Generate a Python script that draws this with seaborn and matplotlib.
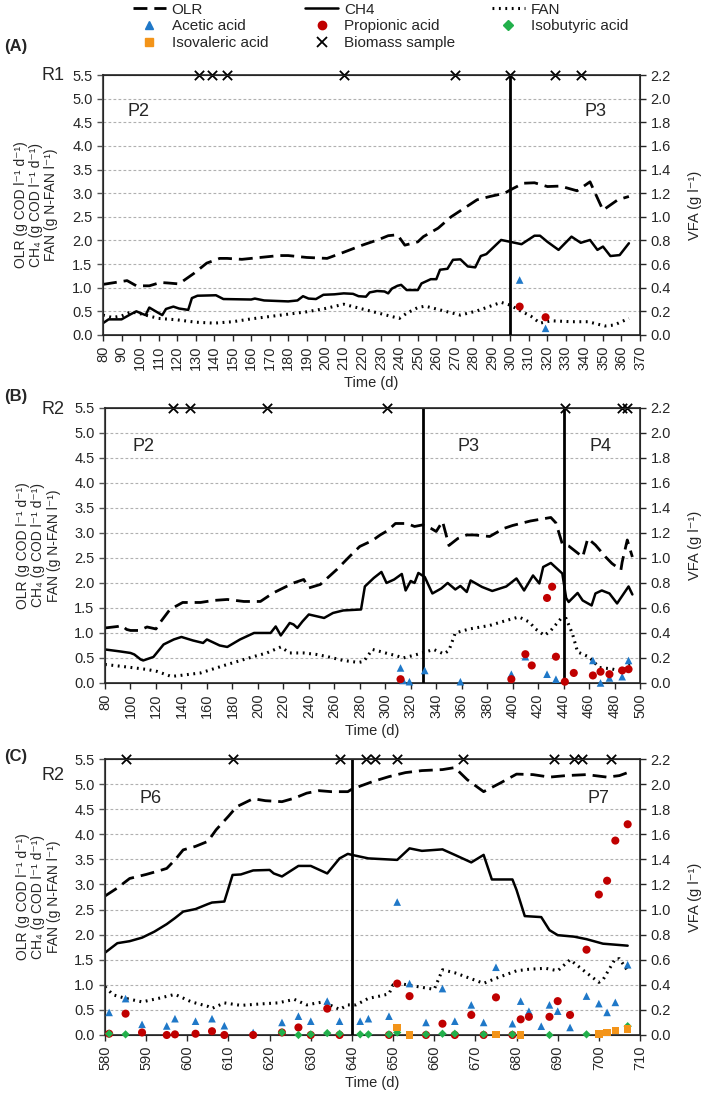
"""Reactor performance figure: OLR, CH4, FAN and VFA over time for R1/R2."""

import matplotlib

matplotlib.use("Agg")
import matplotlib.pyplot as plt
import numpy as np
import seaborn as sns
from matplotlib.lines import Line2D

# ---------------------------------------------------------------- panel A (R1)
olr_a_day = [80, 93, 98, 105, 111, 115, 121, 129, 136, 143, 147, 155, 165, 175, 180, 190,
             201, 210, 220, 229, 234, 239, 243, 250, 253, 261, 268, 275, 282, 289, 297, 300,
             307, 313, 320, 327, 336, 343, 350, 358, 364]
olr_a = [1.07, 1.15, 1.04, 1.04, 1.11, 1.10, 1.08, 1.30, 1.52, 1.62, 1.62, 1.60, 1.64, 1.68,
         1.68, 1.64, 1.62, 1.75, 1.90, 2.02, 2.10, 2.12, 1.90, 1.97, 2.08, 2.26, 2.50, 2.68,
         2.86, 2.93, 3.00, 3.07, 3.21, 3.22, 3.14, 3.15, 3.05, 3.24, 2.64, 2.86, 2.93]
ch4_a_day = [80, 83, 90, 95, 98, 101, 103, 105, 108, 112, 114, 118, 121, 126, 128, 131, 141,
             145, 160, 162, 167, 180, 185, 188, 191, 195, 199, 205, 210, 215, 218, 222, 224,
             228, 232, 234, 236, 239, 241, 244, 250, 252, 257, 260, 262, 266, 269, 273, 277,
             281, 284, 287, 295, 300, 306, 313, 316, 320, 326, 333, 338, 343, 347, 350, 354,
             359, 364]
ch4_a = [0.25, 0.33, 0.33, 0.44, 0.50, 0.45, 0.42, 0.58, 0.51, 0.42, 0.55, 0.60, 0.56, 0.53,
         0.78, 0.83, 0.84, 0.76, 0.75, 0.77, 0.73, 0.71, 0.73, 0.82, 0.77, 0.76, 0.85, 0.86,
         0.88, 0.87, 0.82, 0.81, 0.90, 0.93, 0.92, 0.88, 0.98, 1.04, 1.06, 0.95, 0.95, 1.09,
         1.18, 1.18, 1.38, 1.40, 1.59, 1.60, 1.45, 1.43, 1.67, 1.71, 2.01, 1.97, 1.92, 2.10,
         2.10, 1.97, 1.80, 2.08, 1.95, 2.01, 1.80, 1.87, 1.67, 1.69, 1.94]
fan_a_day = [80, 85, 90, 95, 100, 105, 110, 120, 130, 140, 150, 160, 170, 180, 190, 200, 210,
             220, 230, 235, 240, 244, 250, 254, 261, 273, 282, 295, 300, 304, 311, 316, 322,
             333, 342, 351, 356, 364]
fan_a = [0.42, 0.37, 0.40, 0.49, 0.45, 0.40, 0.35, 0.32, 0.27, 0.25, 0.28, 0.34, 0.39, 0.44,
         0.49, 0.56, 0.65, 0.55, 0.45, 0.40, 0.35, 0.46, 0.58, 0.61, 0.54, 0.42, 0.51, 0.69,
         0.63, 0.54, 0.40, 0.25, 0.30, 0.28, 0.28, 0.19, 0.21, 0.35]
acetic_a_day = [305, 319]
acetic_a = [0.465, 0.056]
propionic_a_day = [305, 319]
propionic_a = [0.24, 0.15]
biomass_a = [132, 139, 147, 210, 270, 300, 324, 338]

# ---------------------------------------------------------------- panel B (R2)
olr_b_day = [80, 90, 93, 97, 100, 107, 113, 120, 123, 131, 141, 155, 165, 176, 189, 202, 212,
             228, 236, 240, 249, 262, 272, 280, 290, 296, 302, 308, 317, 323, 329, 332, 336,
             340, 345, 350, 357, 364, 370, 382, 393, 400, 414, 430, 434, 439, 444, 455, 459,
             465, 473, 478, 485, 486, 490, 494]
olr_b = [1.10, 1.13, 1.15, 1.07, 1.05, 1.05, 1.12, 1.08, 1.20, 1.47, 1.61, 1.61, 1.65, 1.67,
         1.63, 1.63, 1.80, 2.00, 2.07, 1.90, 1.97, 2.27, 2.53, 2.73, 2.85, 2.96, 3.05, 3.19,
         3.19, 3.13, 3.16, 3.14, 3.09, 3.03, 3.23, 2.75, 2.89, 2.96, 2.96, 2.93, 3.09, 3.15,
         3.24, 3.31, 3.20, 2.78, 2.74, 2.52, 2.89, 2.76, 2.52, 2.39, 2.26, 2.42, 2.86, 2.52]
ch4_b_day = [80, 92, 100, 103, 108, 110, 118, 126, 134, 140, 149, 157, 160, 170, 176, 186,
             197, 210, 214, 218, 225, 228, 231, 235, 240, 252, 259, 267, 281, 284, 291, 297,
             301, 307, 313, 316, 320, 323, 326, 331, 337, 344, 349, 355, 359, 364, 367, 376,
             384, 395, 403, 409, 416, 421, 424, 430, 439, 442, 444, 451, 455, 462, 465, 470,
             476, 482, 491, 494]
ch4_b = [0.67, 0.63, 0.60, 0.57, 0.47, 0.45, 0.52, 0.77, 0.87, 0.92, 0.85, 0.80, 0.87, 0.75,
         0.72, 0.87, 1.00, 1.00, 1.13, 0.95, 1.20, 1.17, 1.10, 1.23, 1.37, 1.30, 1.40, 1.45,
         1.47, 1.93, 2.10, 2.22, 2.00, 2.07, 2.18, 1.85, 2.04, 2.00, 2.20, 2.12, 1.79, 1.89,
         2.00, 1.87, 1.94, 1.82, 2.05, 1.92, 1.84, 1.93, 2.09, 1.85, 2.15, 1.99, 2.32, 2.40,
         2.19, 1.70, 1.62, 1.80, 1.65, 1.55, 1.79, 1.85, 1.79, 1.59, 1.93, 1.77]
fan_b_day = [80, 97, 113, 121, 132, 139, 155, 176, 197, 207, 218, 225, 236, 246, 254, 267,
             279, 283, 290, 296, 303, 308, 314, 322, 329, 338, 346, 350, 355, 366, 382, 395,
             405, 413, 418, 425, 430, 438, 442, 447, 451, 460, 468, 478, 486, 490, 492]
fan_b = [0.37, 0.32, 0.27, 0.23, 0.13, 0.15, 0.20, 0.37, 0.53, 0.60, 0.72, 0.60, 0.60, 0.57,
         0.53, 0.45, 0.41, 0.43, 0.67, 0.63, 0.58, 0.55, 0.50, 0.55, 0.60, 0.67, 0.58, 0.65,
         1.00, 1.08, 1.15, 1.25, 1.32, 1.22, 1.08, 0.95, 1.05, 1.29, 1.29, 0.98, 0.62, 0.52,
         0.31, 0.28, 0.23, 0.35, 0.38]
acetic_b_day = [312, 314, 319, 331, 359, 399, 410, 427, 434, 463, 469, 476, 486, 491]
acetic_b = [0.12, 0.02, 0.01, 0.10, 0.01, 0.07, 0.21, 0.07, 0.03, 0.18, 0.0, 0.04, 0.05, 0.18]
propionic_b_day = [312, 399, 410, 415, 427, 431, 434, 441, 448, 463, 469, 476, 486, 491]
propionic_b = [0.03, 0.03, 0.23, 0.14, 0.68, 0.77, 0.21, 0.01, 0.08, 0.06, 0.09, 0.07, 0.10,
               0.11]
biomass_b = [133, 147, 207, 301, 441, 486, 490]

# ---------------------------------------------------------------- panel C (R2)
olr_c_day = [580, 583, 586, 590, 593, 595, 597, 599, 602, 605, 607, 610, 612, 616, 619, 623,
             626, 629, 632, 635, 639, 640, 645, 649, 653, 657, 662, 665, 668, 672, 676, 680,
             684, 688, 692, 697, 702, 705, 707]
olr_c = [2.77, 2.93, 3.12, 3.20, 3.27, 3.32, 3.49, 3.69, 3.76, 3.86, 4.09, 4.36, 4.55, 4.71,
         4.67, 4.65, 4.72, 4.82, 4.87, 4.85, 4.85, 4.90, 5.05, 5.15, 5.23, 5.27, 5.29, 5.33,
         5.09, 4.85, 5.02, 5.20, 5.19, 5.14, 5.17, 5.19, 5.14, 5.17, 5.23]
ch4_c_day = [580, 583, 586, 589, 592, 595, 597, 599, 602, 605, 606, 609, 611, 613, 616, 620,
             621, 623, 627, 630, 634, 637, 639, 640, 644, 651, 654, 657, 662, 665, 669, 672,
             674, 679, 680, 682, 686, 688, 690, 694, 697, 701, 704, 707]
ch4_c = [1.64, 1.83, 1.87, 1.94, 2.06, 2.21, 2.33, 2.46, 2.51, 2.61, 2.64, 2.66, 3.19, 3.20,
         3.28, 3.29, 3.22, 3.16, 3.37, 3.37, 3.22, 3.52, 3.61, 3.59, 3.52, 3.49, 3.72, 3.67,
         3.70, 3.59, 3.44, 3.59, 3.10, 3.10, 2.89, 2.37, 2.35, 2.09, 1.99, 1.96, 1.91, 1.82,
         1.80, 1.78]
fan_c_day = [580, 582, 585, 589, 593, 597, 601, 605, 606, 609, 613, 618, 622, 626, 629, 633,
             637, 639, 641, 644, 647, 649, 650, 652, 657, 660, 662, 665, 672, 675, 680, 683,
             687, 690, 693, 697, 700, 701, 704, 705, 707]
fan_c = [0.96, 0.80, 0.73, 0.66, 0.73, 0.81, 0.66, 0.57, 0.53, 0.64, 0.59, 0.62, 0.64, 0.71,
         0.60, 0.66, 0.51, 0.60, 0.60, 0.73, 0.78, 0.82, 1.00, 1.02, 0.95, 0.91, 1.30, 1.24,
         1.03, 1.13, 1.28, 1.31, 1.33, 1.28, 1.50, 1.24, 1.05, 1.10, 1.52, 1.52, 1.28]
acetic_c_day = [581, 585, 589, 595, 597, 602, 606, 609, 616, 623, 627, 630, 634, 637, 642,
                644, 649, 651, 654, 658, 662, 665, 669, 672, 675, 679, 681, 683, 686, 688,
                690, 693, 697, 700, 702, 704, 707]
acetic_c = [0.18, 0.29, 0.085, 0.072, 0.13, 0.11, 0.13, 0.074, 0.02, 0.10, 0.15, 0.11, 0.27,
            0.11, 0.11, 0.13, 0.15, 1.06, 0.41, 0.10, 0.37, 0.11, 0.24, 0.10, 0.54, 0.09,
            0.27, 0.19, 0.07, 0.24, 0.19, 0.06, 0.31, 0.25, 0.18, 0.26, 0.56]
propionic_c_day = [581, 585, 589, 595, 597, 602, 606, 609, 616, 623, 627, 630, 634, 637, 649,
                   651, 654, 658, 662, 665, 669, 672, 675, 679, 681, 683, 688, 690, 693, 697,
                   700, 702, 704, 707]
propionic_c = [0.01, 0.17, 0.02, 0.0, 0.005, 0.01, 0.03, 0.0, 0.0, 0.02, 0.06, 0.0, 0.21, 0.0,
               0.0, 0.41, 0.31, 0.0, 0.09, 0.0, 0.16, 0.0, 0.30, 0.0, 0.125, 0.145, 0.145,
               0.27, 0.16, 0.68, 1.12, 1.23, 1.55, 1.68]
isobutyric_c_day = [581, 585, 623, 627, 630, 634, 637, 642, 644, 649, 651, 658, 662, 665, 672,
                    679, 688, 697, 707]
isobutyric_c = [0.01, 0.005, 0.02, 0.0, 0.005, 0.015, 0.01, 0.005, 0.005, 0.005, 0.02, 0.005,
                0.01, 0.01, 0.005, 0.005, 0.0, 0.005, 0.07]
isovaleric_c_day = [651, 654, 675, 681, 700, 702, 704, 707]
isovaleric_c = [0.06, 0.0, 0.005, 0.0, 0.01, 0.02, 0.035, 0.05]
biomass_c = [585, 611, 637, 643.5, 645.5, 651, 667, 689, 694, 696, 703]

# ---------------------------------------------------------------- styling
sns.set_style("ticks")
plt.rcParams["font.family"] = ["Liberation Sans", "DejaVu Sans"]

OLR_STYLE = dict(color="black", linewidth=2.0, linestyle=(0, (5, 2.5)))
CH4_STYLE = dict(color="black", linewidth=1.8, linestyle="-")
FAN_STYLE = dict(color="black", linewidth=2.2, linestyle=(0, (0.6, 1.5)))
ACETIC = dict(marker="^", color="#1f78c8", s=30)
PROPIONIC = dict(marker="o", color="#c00000", s=34)
ISOBUTYRIC = dict(marker="D", color="#22b04b", s=18)
ISOVALERIC = dict(marker="s", color="#f39419", s=30)
TICK_FS = 10.5
LEFT_LABEL = "OLR (g COD l⁻¹ d⁻¹)\nCH₄ (g COD l⁻¹ d⁻¹)\nFAN (g N-FAN l⁻¹)"


def draw_panel(ax, olr, ch4, fan, vfa, biomass, xlim, xstep, phase_lines, phase_text):
    """Draw one reactor panel with twin VFA axis."""
    for (days, vals), style in zip([olr, ch4, fan], [OLR_STYLE, CH4_STYLE, FAN_STYLE]):
        sns.lineplot(x=days, y=vals, ax=ax, estimator=None, sort=False, zorder=3, **style)
    for day in phase_lines:
        ax.axvline(day, color="black", linewidth=2.0, zorder=4)
    sns.scatterplot(x=biomass, y=[5.5] * len(biomass), ax=ax, marker="x", color="black",
                    s=45, linewidth=1.3, clip_on=False, zorder=6)
    for day, label in phase_text:
        ax.text(day, 4.72, label, ha="center", va="center", fontsize=13)

    ax.set_xlim(*xlim)
    ax.set_ylim(0, 5.5)
    ax.set_xticks(np.arange(xlim[0], xlim[1] + 1, xstep))
    ax.set_yticks(np.arange(0, 5.51, 0.5))
    ax.set_yticklabels([f"{v:.1f}" for v in np.arange(0, 5.51, 0.5)])
    ax.tick_params(axis="x", labelrotation=90, labelsize=TICK_FS, length=4, width=1)
    ax.tick_params(axis="y", labelsize=TICK_FS, length=4, width=1, color="#555555")
    ax.yaxis.grid(True, color="#b0b0b0", linestyle=(0, (2.5, 2)), linewidth=0.8)
    ax.set_axisbelow(True)
    ax.spines["left"].set_color("#555555")
    ax.spines["left"].set_linewidth(1.5)
    ax.spines["bottom"].set_linewidth(1.2)
    ax.spines["top"].set_linewidth(1.2)
    ax.set_xlabel("Time (d)", fontsize=TICK_FS)
    ax.set_ylabel(LEFT_LABEL, fontsize=10, linespacing=1.12)
    ax.yaxis.set_label_coords(-0.083, 0.5)

    ax2 = ax.twinx()
    for (days, vals), style in zip(vfa[0], vfa[1]):
        sns.scatterplot(x=days, y=vals, ax=ax2, edgecolor="none", linewidth=0,
                        clip_on=False, zorder=5, **style)
    ax2.set_ylim(0, 2.2)
    ax2.set_yticks(np.arange(0, 2.21, 0.2))
    ax2.set_yticklabels([f"{v:.1f}" for v in np.arange(0, 2.21, 0.2)])
    ax2.tick_params(axis="y", labelsize=TICK_FS, length=4, width=1)
    ax2.spines["right"].set_linewidth(1.2)
    ax2.set_ylabel("VFA (g l⁻¹)", fontsize=TICK_FS, labelpad=12)
    return ax2


fig = plt.figure(figsize=(7.09, 10.95), dpi=100)
ax_a = fig.add_axes([0.1453, 0.6941, 0.7574, 0.2374])
ax_b = fig.add_axes([0.1481, 0.3763, 0.7546, 0.2511])
ax_c = fig.add_axes([0.1481, 0.0548, 0.7546, 0.2520])

draw_panel(ax_a, (olr_a_day, olr_a), (ch4_a_day, ch4_a), (fan_a_day, fan_a),
           ([(acetic_a_day, acetic_a), (propionic_a_day, propionic_a)], [ACETIC, PROPIONIC]),
           biomass_a, (80, 370), 10, [300], [(99, "P2"), (346, "P3")])
draw_panel(ax_b, (olr_b_day, olr_b), (ch4_b_day, ch4_b), (fan_b_day, fan_b),
           ([(acetic_b_day, acetic_b), (propionic_b_day, propionic_b)], [ACETIC, PROPIONIC]),
           biomass_b, (80, 500), 20, [330, 440], [(110, "P2"), (365, "P3"), (469, "P4")])
draw_panel(ax_c, (olr_c_day, olr_c), (ch4_c_day, ch4_c), (fan_c_day, fan_c),
           ([(acetic_c_day, acetic_c), (propionic_c_day, propionic_c),
             (isobutyric_c_day, isobutyric_c), (isovaleric_c_day, isovaleric_c)],
            [ACETIC, PROPIONIC, ISOBUTYRIC, ISOVALERIC]),
           biomass_c, (580, 710), 10, [640], [(591, "P6"), (700, "P7")])

for label, reactor, y_lab, y_r in [("(A)", "R1", 47, 75), ("(B)", "R2", 397, 410),
                                   ("(C)", "R2", 757, 775)]:
    fig.text(0.006, 1 - y_lab / 1095, label, fontsize=12, fontweight="bold", va="center")
    fig.text(0.075, 1 - y_r / 1095, reactor, fontsize=13, ha="center", va="center")

handles = [
    Line2D([], [], **OLR_STYLE),
    Line2D([], [], marker="^", color="#1f78c8", linestyle="none", markersize=6),
    Line2D([], [], marker="s", color="#f39419", linestyle="none", markersize=6),
    Line2D([], [], **CH4_STYLE),
    Line2D([], [], marker="o", color="#c00000", linestyle="none", markersize=6),
    Line2D([], [], marker="x", color="black", linestyle="none", markersize=7,
           markeredgewidth=1.3),
    Line2D([], [], **FAN_STYLE),
    Line2D([], [], marker="D", color="#22b04b", linestyle="none", markersize=5),
]
labels = ["OLR", "Acetic acid", "Isovaleric acid", "CH4", "Propionic acid",
          "Biomass sample", "FAN", "Isobutyric acid"]
fig.legend(handles, labels, loc="upper left", bbox_to_anchor=(0.185, 0.999), ncol=3,
           frameon=False, fontsize=11, handlelength=2.2, handletextpad=0.35,
           columnspacing=2.4, labelspacing=0.18, borderaxespad=0, borderpad=0.1)

fig.savefig("out.png", dpi=100)
plt.close(fig)
